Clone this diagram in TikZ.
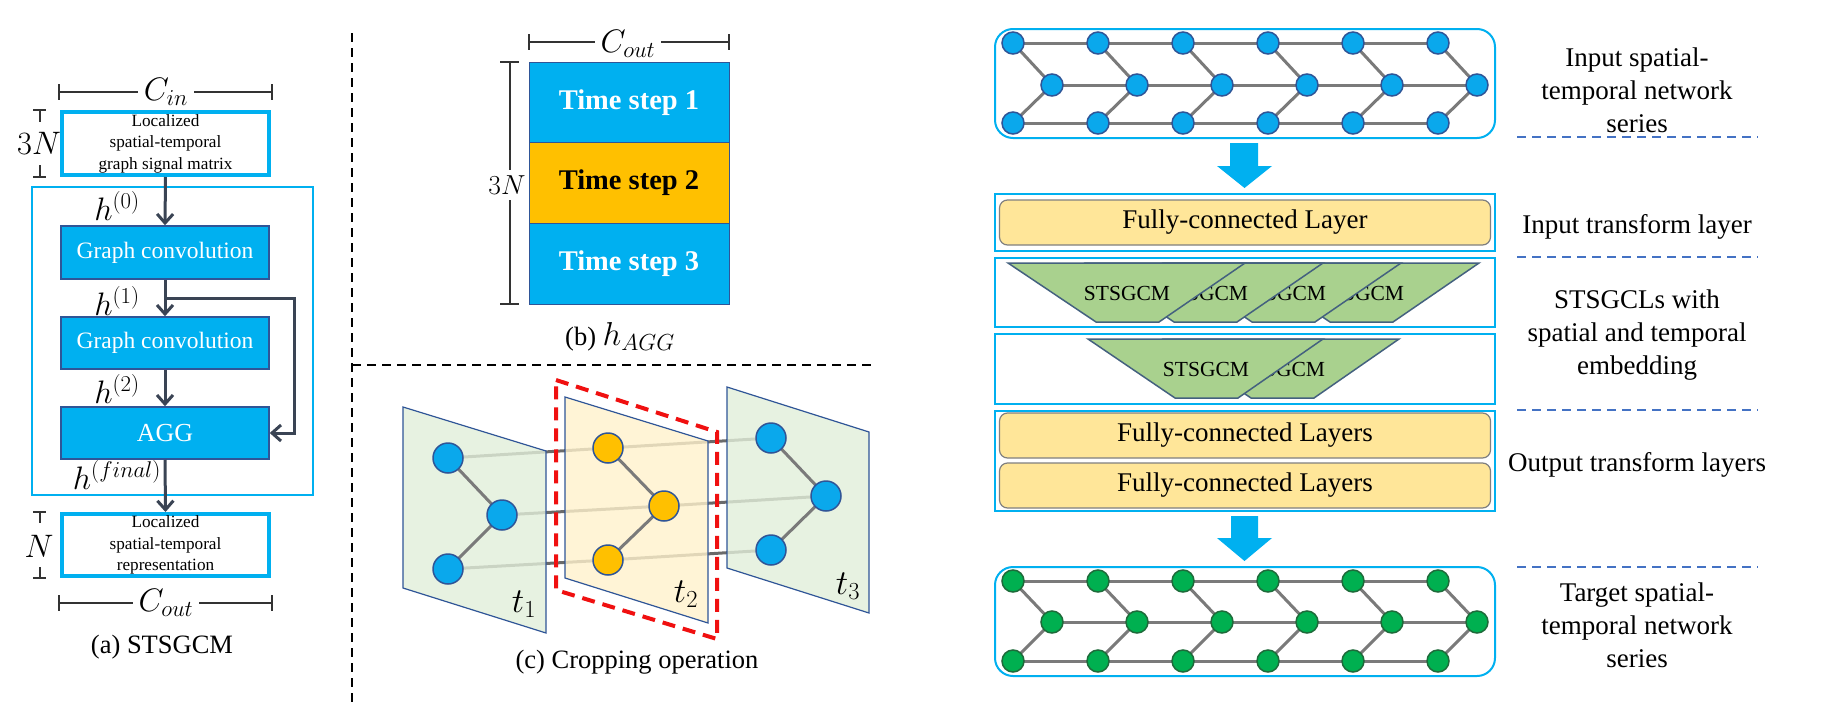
\RequirePackage{fix-cm}
\documentclass[tikz,border=0pt]{standalone}
\usepackage{fontspec}
\usepackage{graphicx}
\setmainfont{Liberation Serif}
\usetikzlibrary{arrows.meta}
\definecolor{cyanC}{HTML}{00B0F0}
\definecolor{cyanN}{HTML}{0AA8EC}
\definecolor{navy}{HTML}{2F5597}
\definecolor{arrC}{HTML}{3A4454}
\definecolor{dimC}{HTML}{333333}
\definecolor{edgeC}{HTML}{7A7A7A}
\definecolor{linkC}{HTML}{6A6A6A}
\definecolor{yelC}{HTML}{FFC000}
\definecolor{lightY}{HTML}{FFE699}
\definecolor{greenN}{HTML}{00B050}
\definecolor{greenD}{HTML}{1E6B3A}
\definecolor{greenT}{HTML}{A9D18E}
\definecolor{trapC}{HTML}{44617F}
\definecolor{planeG}{HTML}{E2EFDA}
\definecolor{planeY}{HTML}{FFF2CC}
\definecolor{dashB}{HTML}{4472C4}
\definecolor{redD}{HTML}{F01010}
\newcommand\myfs[2]{\fontsize{#1}{#2}\selectfont}
\newcommand\enl[1]{\scalebox{1.25}{#1}}
\pgfdeclarelayer{bg}
\pgfdeclarelayer{links}
\pgfdeclarelayer{planes}
\pgfdeclarelayer{edges}
\pgfsetlayers{bg,links,planes,edges,main}
\begin{document}
\begin{tikzpicture}[x=1pt,y=-1pt,
  arr/.style={draw=arrC, line width=3, -{Straight Barb[length=9pt,width=16pt]}},
  dimline/.style={draw=dimC, line width=2},
  dimlab/.style={fill=white, inner xsep=6, inner ysep=2, font=\myfs{26}{30}},
  cybox/.style={draw=cyanC, line width=4, align=center, font=\myfs{17.2}{21.5}, inner sep=0},
  gcbox/.style={fill=cyanC, draw=navy, line width=1.5, text=white, minimum width=208, inner sep=0},
  hlab/.style={font=\myfs{26}{30}},
  captxt/.style={font=\myfs{26.5}{30}},
  tsbox/.style={draw=navy, line width=1, minimum width=200, minimum height=81, inner sep=0, font=\bfseries\myfs{28.5}{34}},
  cnode/.style={circle, draw=navy, line width=1.5, minimum size=30, inner sep=0},
  bnode/.style={circle, fill=cyanN, draw=navy, line width=1.5, minimum size=22, inner sep=0},
  gnode/.style={circle, fill=greenN, draw=greenD, line width=1.5, minimum size=22, inner sep=0},
  gedge/.style={draw=edgeC, line width=3},
  tlink/.style={draw=linkC, line width=3},
  tplane/.style={fill opacity=0.8, draw=navy, line width=1.2},
  outbox/.style={draw=cyanC, line width=2.5, minimum width=500, inner sep=0},
  fcbox/.style={draw=gray, line width=1.2, fill=lightY, rounded corners=8, minimum width=491, minimum height=45, inner sep=0, font=\myfs{27}{32}},
  trapz/.style={fill=greenT, draw=trapC, line width=1.5},
  traptxt/.style={font=\myfs{21.5}{26}},
  rtxt/.style={align=center, font=\myfs{27}{33}},
  bdash/.style={draw=dashB, line width=2, dash pattern=on 9pt off 6pt},
  sepline/.style={draw=black, line width=1.5, dash pattern=on 9pt off 6pt},
  blk/.style={fill=cyanC}
]
\useasboundingbox (0,0) rectangle (1821,715);
\begin{pgfonlayer}{bg}
\fill[white] (0,0) rectangle (1821,715);
\end{pgfonlayer}

% ---------------- panel (a) ----------------
\node[draw=cyanC, line width=2, minimum width=281, minimum height=308, inner sep=0] (frameA) at (172.5,341) {};
\node[cybox, minimum width=207, minimum height=63] (inbox) at (165.5,143.5) {Localized\\spatial-temporal\\graph signal matrix};
\node[gcbox, minimum height=53, font=\myfs{23.5}{28}] (gc1) at (165,252.5) {Graph convolution};
\node[gcbox, minimum height=52, font=\myfs{23.5}{28}] (gc2) at (165,343) {Graph convolution};
\node[gcbox, minimum height=52, font=\myfs{26}{30}] (agg) at (165,433) {AGG};
\node[cybox, minimum width=207, minimum height=62] (outb) at (165.5,545) {Localized\\spatial-temporal\\representation};
\coordinate (br) at (165,298);
\draw[arr] (inbox.south) -- (gc1.north);
\draw[arr] (gc1.south) -- (gc2.north);
\draw[arr] (gc2.south) -- (agg.north);
\draw[arr] (agg.south) -- (outb.north);
\draw[arr] (br) -- ++(129,0) |- (agg.east);
\node[hlab] (h0) at (117,206) {\enl{$h^{(0)}$}};
\node[hlab] (h1) at (117,301) {\enl{$h^{(1)}$}};
\node[hlab] (h2) at (117,389) {\enl{$h^{(2)}$}};
\node[hlab] (hf) at (117,475) {\enl{$h^{(final)}$}};
% dims
\draw[dimline] (59,92) -- (272,92);
\draw[dimline] (59,84) -- (59,100);
\draw[dimline] (272,84) -- (272,100);
\node[dimlab] (cin) at (166,92) {\enl{$C_{in}$}};
\draw[dimline] (59,603) -- (272,603);
\draw[dimline] (59,595) -- (59,611);
\draw[dimline] (272,595) -- (272,611);
\node[dimlab] (couta) at (166,603) {\enl{$C_{out}$}};
\draw[dimline] (33,110) -- (46,110);
\draw[dimline] (39.5,110) -- (39.5,122);
\draw[dimline] (33,177) -- (46,177);
\draw[dimline] (39.5,165) -- (39.5,177);
\node[hlab] (n3a) at (39,143) {\enl{$3N$}};
\draw[dimline] (33,512) -- (46,512);
\draw[dimline] (39.5,512) -- (39.5,523);
\draw[dimline] (33,578) -- (46,578);
\draw[dimline] (39.5,567) -- (39.5,578);
\node[hlab] (na) at (39,546) {\enl{$N$}};
\node[captxt] (capa) at (162,647) {(a) STSGCM};

% separators
\draw[sepline] (352,33) -- (352,703);
\draw[sepline] (352,365) -- (872,365);

% ---------------- panel (b) ----------------
\node[tsbox, fill=cyanC, text=white] (ts1) at (629,102.5) {Time step 1};
\node[tsbox, fill=yelC, text=black] (ts2) at (629,183) {Time step 2};
\node[tsbox, fill=cyanC, text=white] (ts3) at (629,263.5) {Time step 3};
\draw[dimline] (529,42) -- (729,42);
\draw[dimline] (529,34) -- (529,50);
\draw[dimline] (729,34) -- (729,50);
\node[dimlab] (coutb) at (628,44) {\enl{$C_{out}$}};
\draw[dimline] (510,62) -- (510,304);
\draw[dimline] (500,62) -- (519,62);
\draw[dimline] (500,304) -- (519,304);
\node[dimlab, font=\myfs{22}{26}, inner xsep=1, inner ysep=6] (n3b) at (507,185) {\enl{$3N$}};
\node[captxt] (capb) at (620,337) {(b) \enl{$h_{AGG}$}};

% ---------------- panel (c) ----------------
\node[cnode, fill=cyanN] (a1) at (448,458) {};
\node[cnode, fill=cyanN] (a2) at (502,515) {};
\node[cnode, fill=cyanN] (a3) at (448,569) {};
\node[cnode, fill=yelC] (b1) at (608,448) {};
\node[cnode, fill=yelC] (b2) at (664,506) {};
\node[cnode, fill=yelC] (b3) at (608,560) {};
\node[cnode, fill=cyanN] (c1) at (771,438) {};
\node[cnode, fill=cyanN] (c2) at (826,496) {};
\node[cnode, fill=cyanN] (c3) at (771,550) {};
\begin{pgfonlayer}{links}
\draw[tlink] (a1.center) -- (b1.center) -- (c1.center);
\draw[tlink] (a2.center) -- (b2.center) -- (c2.center);
\draw[tlink] (a3.center) -- (b3.center) -- (c3.center);
\end{pgfonlayer}
\begin{pgfonlayer}{planes}
\filldraw[tplane, fill=planeG] (403,407) -- (546,451) -- (546,633) -- (403,588) -- cycle;
\filldraw[tplane, fill=planeY] (565,397) -- (708,441) -- (708,623) -- (565,578) -- cycle;
\filldraw[tplane, fill=planeG] (727,387) -- (869,432) -- (869,613) -- (727,568) -- cycle;
\end{pgfonlayer}
\begin{pgfonlayer}{edges}
\draw[gedge] (a1.center) -- (a2.center) -- (a3.center);
\draw[gedge] (b1.center) -- (b2.center) -- (b3.center);
\draw[gedge] (c1.center) -- (c2.center) -- (c3.center);
\end{pgfonlayer}
\draw[draw=redD, line width=4, dash pattern=on 13pt off 8pt] (556,380) -- (717,432) -- (717,639) -- (556,590) -- cycle;
\node[font=\myfs{28}{32}] (t1) at (524,604) {\enl{$t_1$}};
\node[font=\myfs{28}{32}] (t2) at (686,594) {\enl{$t_2$}};
\node[font=\myfs{28}{32}] (t3) at (848,586) {\enl{$t_3$}};
\node[captxt] (capc) at (637,662) {(c) Cropping operation};

% ---------------- right column ----------------
\node[draw=cyanC, line width=2, rounded corners=18, minimum width=500, minimum height=109, inner sep=0] (netin) at (1245,83.5) {};
\node[draw=cyanC, line width=2, rounded corners=18, minimum width=500, minimum height=109, inner sep=0] (netout) at (1245,621.5) {};
\foreach \i in {1,...,6} {
  \pgfmathsetmacro\xt{1013+85*(\i-1)}
  \pgfmathsetmacro\xm{1052+85*(\i-1)}
  \node[bnode] (it\i) at (\xt,43) {};
  \node[bnode] (im\i) at (\xm,85) {};
  \node[bnode] (ib\i) at (\xt,123) {};
  \node[gnode] (ot\i) at (\xt,581) {};
  \node[gnode] (om\i) at (\xm,622) {};
  \node[gnode] (ob\i) at (\xt,661) {};
}
\begin{pgfonlayer}{edges}
\foreach \i in {1,...,6} {
  \draw[gedge] (it\i.center) -- (im\i.center) -- (ib\i.center);
  \draw[gedge] (ot\i.center) -- (om\i.center) -- (ob\i.center);
}
\draw[gedge] (it1.center) -- (it6.center);
\draw[gedge] (im1.center) -- (im6.center);
\draw[gedge] (ib1.center) -- (ib6.center);
\draw[gedge] (ot1.center) -- (ot6.center);
\draw[gedge] (om1.center) -- (om6.center);
\draw[gedge] (ob1.center) -- (ob6.center);
\end{pgfonlayer}

% block arrows
\fill[blk] (1230,143) -- (1258,143) -- (1258,166) -- (1272,166) -- (1244.5,188) -- (1217,166) -- (1230,166) -- cycle;
\fill[blk] (1231,516) -- (1258,516) -- (1258,538) -- (1272,538) -- (1244.5,561) -- (1217,538) -- (1231,538) -- cycle;

% input transform
\node[outbox, minimum height=57] (itl) at (1245,222.5) {};
\node[fcbox] (fc1) at (1245,222.5) {Fully-connected Layer};

% STSGCL boxes
\node[outbox, minimum height=69] (sg1) at (1245,292.5) {};
\node[outbox, minimum height=70] (sg2) at (1245,369) {};
\foreach \k in {4,3,2,1} {
  \pgfmathsetmacro\d{78*(\k-1)}
  \filldraw[trapz] (1008+\d,263) -- (1245+\d,263) -- (1159+\d,322) -- (1096+\d,322) -- cycle;
  \node[traptxt] (sa\k) at (1127+\d,293) {STSGCM};
}
\foreach \k in {2,1} {
  \pgfmathsetmacro\d{76*(\k-1)}
  \filldraw[trapz] (1088+\d,339) -- (1323+\d,339) -- (1238+\d,398) -- (1175+\d,398) -- cycle;
  \node[traptxt] (sb\k) at (1206+\d,369) {STSGCM};
}

% output transform
\node[outbox, minimum height=100] (otl) at (1245,461) {};
\node[fcbox] (fc2) at (1245,435.5) {Fully-connected Layers};
\node[fcbox] (fc3) at (1245,485.5) {Fully-connected Layers};

% right labels
\node[rtxt] (l1) at (1637,90) {Input spatial-\\temporal network\\series};
\node[rtxt] (l2) at (1637,227) {Input transform layer};
\node[rtxt] (l3) at (1637,335) {STSGCLs with\\spatial and temporal\\embedding};
\node[rtxt] (l4) at (1637,465) {Output transform layers};
\node[rtxt] (l5) at (1637,625) {Target spatial-\\temporal network\\series};
\draw[bdash] (1517,137) -- (1758,137);
\draw[bdash] (1517,257) -- (1758,257);
\draw[bdash] (1517,410) -- (1758,410);
\draw[bdash] (1517,567) -- (1758,567);
\end{tikzpicture}
\end{document}
